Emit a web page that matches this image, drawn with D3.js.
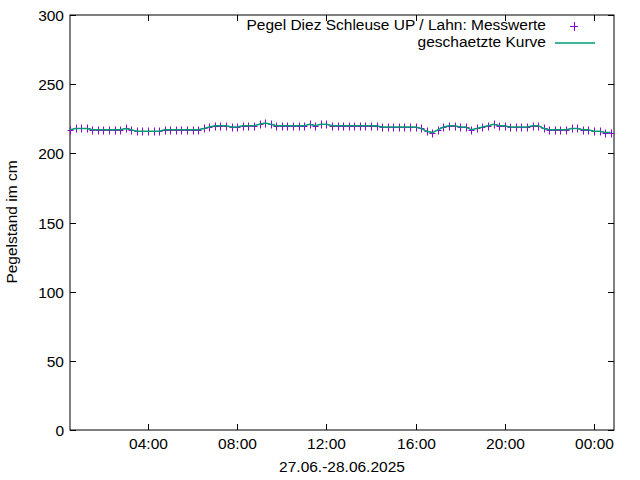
<!DOCTYPE html><html><head><meta charset="utf-8"><script src="https://cdn.jsdelivr.net/npm/d3@7"></script>
<style>body{margin:0;background:#fff}text{font-family:"Liberation Sans",Arial,sans-serif;font-size:15.5px}</style></head><body>
<script>
const startTime = "2025-06-27T00:30:00";
const stepMinutes = 15;
const values = [217,218,218,218, 217,217,217,217, 217,217,218,217, 216,216,216,216, 216,217,217,217, 217,217,217,217,
 218,219,220,220, 220,219,219,220, 220,220,221,222, 221,220,220,220, 220,220,220,221, 220,221,221,220,
 220,220,220,220, 220,220,220,220, 219,219,219,219, 219,219,219,218, 216,215,217,219, 220,220,219,219,
 217,218,219,220, 221,220,220,219, 219,219,219,220, 220,218,217,217, 217,217,218,218, 217,217,216,216, 215,215];
const yTicks = [0,50,100,150,200,250,300];
const xTickTimes = ["2025-06-27T04:00","2025-06-27T08:00","2025-06-27T12:00","2025-06-27T16:00","2025-06-27T20:00","2025-06-28T00:00"];
const t0 = new Date(startTime);
const data = values.map((v,i)=>({t:new Date(t0.getTime()+i*stepMinutes*60000),v}));
const W=640,H=480,L=70,R=614,T=15,B=430;
const svg=d3.select("body").append("svg").attr("width",W).attr("height",H);
const x=d3.scaleTime().domain([new Date("2025-06-27T00:30:00"),new Date("2025-06-28T00:54:00")]).range([L,R]);
const y=d3.scaleLinear().domain([0,300]).range([B,T]);
const g=svg.append("g");
g.append("rect").attr("x",L).attr("y",T).attr("width",R-L).attr("height",B-T).attr("fill","none").attr("stroke","#000");
yTicks.forEach(v=>{const yy=Math.round(y(v))+0.5;
 g.append("line").attr("x1",L).attr("x2",L+6).attr("y1",yy).attr("y2",yy).attr("stroke","#000");
 g.append("line").attr("x1",R).attr("x2",R-6).attr("y1",yy).attr("y2",yy).attr("stroke","#000");
 g.append("text").attr("x",L-6).attr("y",yy+5).attr("text-anchor","end").text(v);});
xTickTimes.forEach(s=>{const d=new Date(s),xx=Math.round(x(d))+0.5;
 g.append("line").attr("x1",xx).attr("x2",xx).attr("y1",B).attr("y2",B-6).attr("stroke","#000");
 g.append("line").attr("x1",xx).attr("x2",xx).attr("y1",T).attr("y2",T+6).attr("stroke","#000");
 g.append("text").attr("x",xx).attr("y",B+19).attr("text-anchor","middle").text(d3.timeFormat("%H:%M")(d));});
svg.append("text").attr("x",342).attr("y",472).attr("text-anchor","middle").text("27.06.-28.06.2025");
svg.append("text").attr("transform","translate(17,222) rotate(-90)").attr("text-anchor","middle").text("Pegelstand im cm");
const clip=svg.append("defs").append("clipPath").attr("id","c").append("rect").attr("x",L).attr("y",T).attr("width",R-L).attr("height",B-T);
const line=d3.line().x(d=>x(d.t)).y(d=>y(d.v));
const pts=svg.append("g").attr("stroke","#9400d3").attr("stroke-width",1);
data.filter(d=>x(d.t)<=R).forEach(d=>{const px=Math.round(x(d.t))+0.5,py=Math.round(y(d.v))+0.5;
 pts.append("line").attr("x1",px-3).attr("x2",px+3).attr("y1",py).attr("y2",py);
 pts.append("line").attr("x1",px).attr("x2",px).attr("y1",py-4).attr("y2",py+4);});
svg.append("path").datum(data).attr("clip-path","url(#c)").attr("d",line).attr("fill","none").attr("stroke","#009e73").attr("stroke-width",1.5);
svg.append("text").attr("x",546).attr("y",30).attr("text-anchor","end").text("Pegel Diez Schleuse UP / Lahn: Messwerte");
svg.append("line").attr("x1",570).attr("x2",578).attr("y1",26.5).attr("y2",26.5).attr("stroke","#9400d3");
svg.append("line").attr("x1",574.5).attr("x2",574.5).attr("y1",22).attr("y2",31).attr("stroke","#9400d3");
svg.append("text").attr("x",546).attr("y",47).attr("text-anchor","end").text("geschaetzte Kurve");
svg.append("line").attr("x1",555).attr("x2",595).attr("y1",43).attr("y2",43).attr("stroke","#009e73").attr("stroke-width",1.5);
</script></body></html>
